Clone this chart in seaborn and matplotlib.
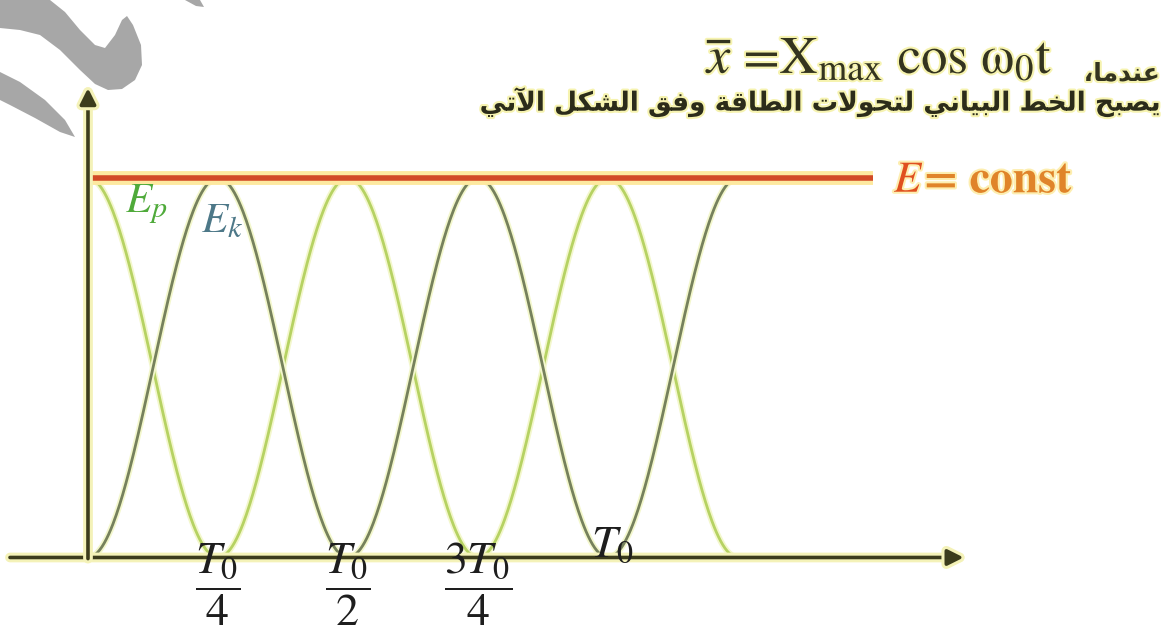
import numpy as np
import pandas as pd
import matplotlib
matplotlib.use("Agg")
import matplotlib.pyplot as plt
import matplotlib.patheffects as pe
import seaborn as sns

# --- chart content -------------------------------------------------------
E_total = 1.0                      # total mechanical energy (constant)
t_end = 1.25                       # curves drawn up to 5T0/4 (in units of T0)
E_line_end = 1.51                  # where the E = const line stops
tick_positions = [0.25, 0.5, 0.75, 1.0]
tick_labels = [r"$\dfrac{T_0}{4}$", r"$\dfrac{T_0}{2}$", r"$\dfrac{3T_0}{4}$", r"$T_0$"]
energy_names = ["Ep", "Ek"]
energy_label_text = [r"$E_p$", r"$E_k$"]
energy_label_pos = [(0.113, 0.93), (0.258, 0.885)]
const_symbol = r"$E$"
const_rest = "= const"
formula_text = r"$\overline{x}$ =X$_{\mathrm{max}}$ cos ω$_0$t"
arabic_when = "عندما،"
arabic_caption = "يصبح الخط البياني لتحولات الطاقة وفق الشكل الآتي"

# --- Arabic contextual shaping (isolated, final, initial, medial) --------
FORMS = {
    "ا": (0xFE8D, 0xFE8E, None, None),
    "آ": (0xFE81, 0xFE82, None, None),
    "د": (0xFEA9, 0xFEAA, None, None),
    "و": (0xFEED, 0xFEEE, None, None),
    "ة": (0xFE93, 0xFE94, None, None),
    "ب": (0xFE8F, 0xFE90, 0xFE91, 0xFE92),
    "ت": (0xFE95, 0xFE96, 0xFE97, 0xFE98),
    "ح": (0xFEA1, 0xFEA2, 0xFEA3, 0xFEA4),
    "خ": (0xFEA5, 0xFEA6, 0xFEA7, 0xFEA8),
    "ش": (0xFEB5, 0xFEB6, 0xFEB7, 0xFEB8),
    "ص": (0xFEB9, 0xFEBA, 0xFEBB, 0xFEBC),
    "ط": (0xFEC1, 0xFEC2, 0xFEC3, 0xFEC4),
    "ع": (0xFEC9, 0xFECA, 0xFECB, 0xFECC),
    "ف": (0xFED1, 0xFED2, 0xFED3, 0xFED4),
    "ق": (0xFED5, 0xFED6, 0xFED7, 0xFED8),
    "ك": (0xFED9, 0xFEDA, 0xFEDB, 0xFEDC),
    "ل": (0xFEDD, 0xFEDE, 0xFEDF, 0xFEE0),
    "م": (0xFEE1, 0xFEE2, 0xFEE3, 0xFEE4),
    "ن": (0xFEE5, 0xFEE6, 0xFEE7, 0xFEE8),
    "ي": (0xFEF1, 0xFEF2, 0xFEF3, 0xFEF4),
}
LAM_ALEF = {"ا": (0xFEFB, 0xFEFC), "آ": (0xFEF5, 0xFEF6)}


def shape_arabic(text):
    out = []
    i = 0
    n = len(text)

    def dual(c):
        return c in FORMS and FORMS[c][2] is not None

    while i < n:
        c = text[i]
        if c not in FORMS:
            out.append(c)
            i += 1
            continue
        prev = text[i - 1] if i > 0 else ""
        joins_prev = dual(prev)
        if c == "ل" and i + 1 < n and text[i + 1] in LAM_ALEF:
            iso, fin = LAM_ALEF[text[i + 1]]
            out.append(chr(fin if joins_prev else iso))
            i += 2
            continue
        nxt = text[i + 1] if i + 1 < n else ""
        joins_next = dual(c) and nxt in FORMS
        forms = FORMS[c]
        if joins_prev and joins_next:
            code = forms[3]
        elif joins_prev:
            code = forms[1]
        elif joins_next:
            code = forms[2]
        else:
            code = forms[0]
        out.append(chr(code))
        i += 1
    return "".join(out)[::-1]


# --- energy curves -------------------------------------------------------
t = np.linspace(0, t_end, 600)
phase = 2 * np.pi * t
df = pd.DataFrame({
    "t": np.concatenate([t, t]),
    "E": np.concatenate([E_total * np.cos(phase) ** 2, E_total * np.sin(phase) ** 2]),
    "kind": np.repeat(energy_names, len(t)),
})

sns.set_style("white")
plt.rcParams["mathtext.fontset"] = "stix"
plt.rcParams["font.family"] = ["STIXGeneral", "DejaVu Sans"]

fig = plt.figure(figsize=(11.63, 6.39), dpi=100)
ax = fig.add_axes([0, 0, 1, 1])
ax.set_xlim(-0.1692, 2.0673)
ax.set_ylim(-0.2148, 1.469)
ax.axis("off")

palette = {"Ep": "#b6d263", "Ek": "#76815c"}
sns.lineplot(data=df, x="t", y="E", hue="kind", palette=palette, sort=False,
             legend=False, ax=ax, linewidth=2.0, zorder=3)
for ln in ax.lines:
    ln.set_path_effects([pe.Stroke(linewidth=4.5, foreground="#f3f7cc"), pe.Normal()])

# constant total energy
ax.hlines(E_total, 0, E_line_end, colors="#d24a26", linewidth=4.0, zorder=4,
          path_effects=[pe.Stroke(linewidth=10, foreground="#fde9a0"), pe.Normal()])

# axes with arrow heads
axis_color = "#3c3c1c"
glow = [pe.Stroke(linewidth=7, foreground="#f4f2b8"), pe.Normal()]
for start, end in [((-0.15, 0), (1.684, 0)), ((0, -0.003), (0, 1.237))]:
    ann = ax.annotate("", xy=end, xytext=start, zorder=5,
                      arrowprops=dict(arrowstyle="-|>", color=axis_color, lw=2.6,
                                      mutation_scale=24, shrinkA=0, shrinkB=0))
    ann.arrow_patch.set_path_effects(glow)

# tick labels on the time axis
for pos, lab in zip(tick_positions, tick_labels):
    if "dfrac" in lab:
        ax.text(pos, -0.072, lab, ha="center", va="center", fontsize=33,
                color="#1e1e1e", zorder=6)
    else:
        ax.text(pos + 0.008, 0.028, lab, ha="center", va="center", fontsize=33,
                color="#1e1e1e", zorder=6)

# curve names
for (x, y), lab, col in zip(energy_label_pos, energy_label_text, ["#4faa3a", "#4d7888"]):
    ax.text(x, y, lab, ha="center", va="center", fontsize=31, color=col, zorder=6)

# E = const label
label_glow = [pe.Stroke(linewidth=3, foreground="#fdeeb0"), pe.Normal()]
ax.text(1.55, 0.99, const_symbol, ha="left", va="center", fontsize=32,
        color="#e0501f", zorder=6, path_effects=label_glow)
ax.text(1.607, 0.99, const_rest, ha="left", va="center", fontsize=33,
        fontweight="bold", color="#e0842a", zorder=6, path_effects=label_glow)

# heading lines
head_glow = [pe.Stroke(linewidth=3, foreground="#f6f3b0"), pe.Normal()]
fig.text(1054 / 1163, 1 - 73 / 639, formula_text, ha="right", va="baseline",
         fontsize=38, color="#34341f", path_effects=head_glow)
fig.text(1160 / 1163, 1 - 74 / 639, shape_arabic(arabic_when), ha="right",
         va="center", fontsize=18, fontweight="bold", color="#34341f",
         family=["DejaVu Sans"], path_effects=head_glow)
fig.text(1160 / 1163, 1 - 102 / 639, shape_arabic(arabic_caption), ha="right",
         va="center", fontsize=19, fontweight="bold", color="#2c2c1a",
         family=["DejaVu Sans"], path_effects=head_glow)

# grey brush-stroke mark in the upper left corner
deco = fig.add_axes([0, 0, 1, 1], zorder=-1)
deco.set_xlim(0, 1163)
deco.set_ylim(639, 0)
deco.axis("off")
shapes = [
    [(0, 0), (50, 0), (65, 12), (80, 30), (95, 45), (105, 48), (115, 35), (122, 20),
     (127, 16), (133, 25), (141, 45), (142, 65), (135, 80), (122, 89), (108, 90),
     (95, 84), (80, 70), (60, 50), (40, 35), (20, 30), (0, 28)],
    [(0, 72), (20, 82), (45, 100), (65, 120), (75, 137), (60, 132), (35, 118),
     (10, 105), (0, 100)],
    [(185, 0), (200, 0), (204, 7), (196, 6)],
]
for poly in shapes:
    xs, ys = zip(*poly)
    deco.fill(xs, ys, color="#a7a7a7", linewidth=0)

fig.savefig("out.png", dpi=100, facecolor="white")
